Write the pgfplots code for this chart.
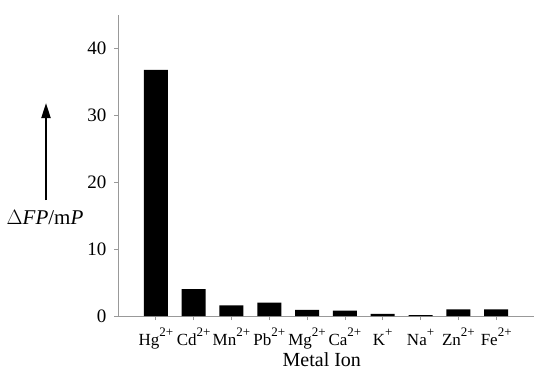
\documentclass[border=0pt]{standalone}
\usepackage{fontspec}
\setmainfont{Liberation Serif}
\usepackage{pgfplots}
\pgfplotsset{compat=1.18}
\usetikzlibrary{arrows.meta}
\newcommand{\ion}[2]{#1\raisebox{9pt}{\fontsize{13}{13}\selectfont #2}}
\begin{document}
\begin{tikzpicture}
\useasboundingbox (0,0) rectangle (534pt,370pt);
\begin{axis}[
  at={(118pt,54pt)}, anchor=south west,
  scale only axis, width=416pt, height=301pt,
  xmin=-1, xmax=10, ymin=0, ymax=45,
  axis x line*=bottom, axis y line*=left,
  axis line style={draw=gray!80, line width=0.8pt},
  tick style={draw=gray!80, line width=0.8pt},
  tick align=outside, major tick length=4pt,
  ytick={0,10,20,30,40},
  xtick={0,1,2,3,4,5,6,7,8,9},
  xticklabels={\ion{Hg}{2+},\ion{Cd}{2+},\ion{Mn}{2+},\ion{Pb}{2+},\ion{Mg}{2+},\ion{Ca}{2+},\ion{K}{+},\ion{Na}{+},\ion{Zn}{2+},\ion{Fe}{2+}},
  /pgf/number format/assume math mode=true,
  yticklabel style={font=\fontsize{19}{21}\selectfont, xshift=-4pt},
  xticklabel style={font=\fontsize{17}{19}\selectfont, anchor=base, yshift=-25pt},
  xlabel={Metal Ion},
  xlabel style={font=\fontsize{20}{22}\selectfont, at={(axis description cs:0.49,0)}, anchor=base, yshift=-50pt},
  clip=false,
]
\addplot[ybar, bar width=24pt, fill=black, draw=none] coordinates {
(0,36.8) (1,4.0) (2,1.6) (3,2.0) (4,0.9) (5,0.8) (6,0.3) (7,0.15) (8,1.0) (9,1.0)
};
\end{axis}
\draw[line width=2pt, -{Triangle[length=15pt,width=9pt]}] (46pt,170pt) -- (46pt,267pt);
\node[font=\fontsize{21}{23}\selectfont, anchor=base] at (45pt,146pt) {$\Delta$\textit{FP}/m\textit{P}};
\end{tikzpicture}
\end{document}
